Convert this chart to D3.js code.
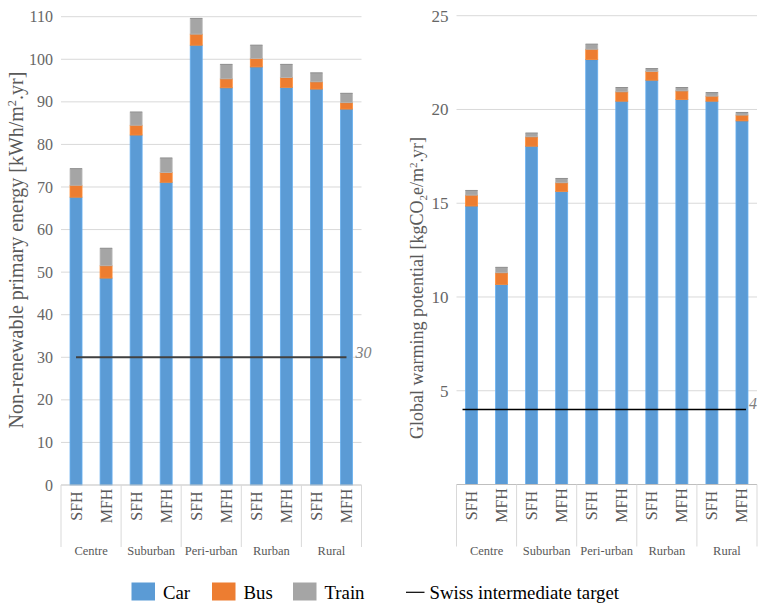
<!DOCTYPE html>
<html>
<head>
<meta charset="utf-8">
<script src="https://cdn.jsdelivr.net/npm/d3@7"></script>
<style>
  html, body { margin: 0; padding: 0; background: #fff; }
  svg { display: block; }
  svg text { font-family: "Liberation Serif", "Times New Roman", serif; }
</style>
</head>
<body>
<svg id="chart" width="765" height="607"></svg>
<script>
// Settlement types and dwelling types along the category axis
const groups = ["Centre", "Suburban", "Peri-urban", "Rurban", "Rural"];
const dwellings = ["SFH", "MFH"];
const modes = ["Car", "Bus", "Train"];
const modeColors = ["#5B9BD5", "#ED7D31", "#A5A5A5"];

// Non-renewable primary energy, kWh/m2.yr (SFH, MFH per group)
const energyCar   = [67.6, 48.6, 82.2, 71.1, 103.3, 93.3, 98.2, 93.4, 93.0, 88.3];
const energyBus   = [2.8, 2.9, 2.3, 2.3, 2.6, 2.1, 2.0, 2.3, 1.7, 1.5];
const energyTrain = [3.9, 4.1, 3.1, 3.4, 3.7, 3.4, 3.1, 3.1, 2.1, 2.2];
const energyTicks = [0, 10, 20, 30, 40, 50, 60, 70, 80, 90, 100, 110];
const energyTarget = 30;

// Global warming potential, kgCO2e/m2.yr
const gwpCar   = [14.85, 10.67, 18.04, 15.63, 22.66, 20.44, 21.56, 20.53, 20.44, 19.39];
const gwpBus   = [0.58, 0.62, 0.50, 0.46, 0.55, 0.50, 0.47, 0.46, 0.27, 0.31];
const gwpTrain = [0.25, 0.29, 0.20, 0.23, 0.27, 0.23, 0.15, 0.18, 0.19, 0.14];
const gwpTicks = [5, 10, 15, 20, 25];
const gwpTarget = 4;

const targetLabel = "Swiss intermediate target";

const svg = d3.select("#chart");

function drawPanel(opt) {
  const g = svg.append("g");
  const keys = [];
  groups.forEach(gr => dwellings.forEach(dw => keys.push(gr + "|" + dw)));

  const x = d3.scaleBand().domain(keys)
    .range([opt.left, opt.right]).paddingInner(0.6).paddingOuter(0.3);
  const y = d3.scaleLinear().domain([0, opt.max]).range([opt.bottom, opt.top]);

  // gridlines
  g.append("g").selectAll("line")
    .data(opt.ticks.filter(t => t > 0)).join("line")
    .attr("x1", opt.left).attr("x2", opt.right)
    .attr("y1", d => y(d)).attr("y2", d => y(d))
    .attr("stroke", "#d9d9d9").attr("stroke-width", 1);

  // value axis labels
  const yAxis = d3.axisLeft(y).tickValues(opt.ticks).tickSize(0).tickPadding(opt.tickPad);
  const ya = g.append("g").attr("transform", `translate(${opt.left},0)`).call(yAxis);
  ya.attr("font-family", null).attr("font-size", null);
  ya.select(".domain").remove();
  ya.selectAll("text")
    .style("font-size", opt.tickSize + "px").attr("fill", "#666666");

  // stacked bars
  const rows = keys.map((k, i) => ({ key: k, Car: opt.car[i], Bus: opt.bus[i], Train: opt.train[i] }));
  const series = d3.stack().keys(modes)(rows);
  const bw = x.bandwidth();
  series.forEach((s, si) => {
    const col = d3.color(modeColors[si]);
    const sg = g.append("g");
    sg.selectAll("rect").data(s).join("rect")
      .attr("x", d => x(d.data.key))
      .attr("y", d => y(d[1]))
      .attr("width", bw)
      .attr("height", d => y(d[0]) - y(d[1]))
      .attr("fill", modeColors[si])
      .attr("stroke", col.brighter(0.35))
      .attr("stroke-width", 0.8);
    sg.selectAll("line").data(s).join("line")
      .attr("x1", d => x(d.data.key)).attr("x2", d => x(d.data.key) + bw)
      .attr("y1", d => y(d[1])).attr("y2", d => y(d[1]))
      .attr("stroke", col.darker(0.7)).attr("stroke-width", 0.8);
  });

  // category axis line and group separators
  g.append("line")
    .attr("x1", opt.left).attr("x2", opt.right)
    .attr("y1", opt.bottom).attr("y2", opt.bottom)
    .attr("stroke", "#bfbfbf").attr("stroke-width", 1);
  const groupEdges = d3.range(groups.length + 1).map(i =>
    i < groups.length ? x(groups[i] + "|SFH") - x.step() * x.paddingOuter() : opt.right);
  g.append("g").selectAll("line").data(groupEdges).join("line")
    .attr("x1", d => d).attr("x2", d => d)
    .attr("y1", opt.bottom).attr("y2", opt.bottom + 62)
    .attr("stroke", "#d9d9d9").attr("stroke-width", 1);

  // dwelling labels (rotated)
  g.append("g").selectAll("text").data(keys).join("text")
    .attr("transform", d => `translate(${x(d) + bw / 2 + 5.5},${opt.bottom + 21}) rotate(-90)`)
    .attr("text-anchor", "middle")
    .style("font-size", "16px").attr("fill", "#595959")
    .text(d => d.split("|")[1]);

  // settlement group labels
  g.append("g").selectAll("text").data(groups).join("text")
    .attr("x", (d, i) => (groupEdges[i] + groupEdges[i + 1]) / 2)
    .attr("y", opt.bottom + 70)
    .attr("text-anchor", "middle")
    .style("font-size", "12.5px").attr("fill", "#595959")
    .text(d => d);

  // target line
  const firstKey = keys[0], lastKey = keys[keys.length - 1];
  const lineEnd = x(lastKey) + bw / 2 + opt.lineOffR;
  g.append("line")
    .attr("x1", x(firstKey) + bw / 2 + opt.lineOffL)
    .attr("x2", lineEnd)
    .attr("y1", y(opt.target)).attr("y2", y(opt.target))
    .attr("stroke", opt.lineColor).attr("stroke-width", opt.lineWidth);
  g.append("text")
    .attr("x", lineEnd + opt.labelDx)
    .attr("y", y(opt.target) + opt.labelDy)
    .style("font-size", "16px").style("font-style", "italic").attr("fill", "#7f7f7f")
    .text(opt.target);

  // value axis title
  const title = g.append("text")
    .attr("transform", `translate(${opt.titleX},${opt.titleY}) rotate(-90)`)
    .attr("text-anchor", "middle")
    .style("font-size", opt.titleSize + "px").attr("fill", "#595959");
  opt.title.forEach(p => {
    const t = title.append("tspan").text(p.t);
    if (p.sup) t.style("font-size", opt.titleSize * 0.62 + "px").attr("dy", -opt.titleSize * 0.35);
    if (p.sub) t.style("font-size", opt.titleSize * 0.62 + "px").attr("dy", opt.titleSize * 0.2);
    if (p.reset) t.attr("dy", p.reset * opt.titleSize);
  });
}

drawPanel({
  left: 61, right: 361.5, top: 16.7, bottom: 485, max: 110,
  ticks: energyTicks, tickSize: 16, tickPad: 8,
  car: energyCar, bus: energyBus, train: energyTrain,
  target: energyTarget, lineColor: "#404040", lineWidth: 2,
  lineOffL: 0, lineOffR: 0, labelDx: 9, labelDy: 1,
  titleX: 23, titleY: 250, titleSize: 20,
  title: [
    { t: "Non-renewable primary energy [kWh/m" },
    { t: "2", sup: true },
    { t: ".yr]", reset: 0.35 }
  ]
});

drawPanel({
  left: 456.5, right: 757, top: 15.7, bottom: 484.5, max: 25,
  ticks: gwpTicks, tickSize: 17, tickPad: 8,
  car: gwpCar, bus: gwpBus, train: gwpTrain,
  target: gwpTarget, lineColor: "#000000", lineWidth: 1.3,
  lineOffL: -9, lineOffR: 4, labelDx: 3, labelDy: 0,
  titleX: 423, titleY: 288, titleSize: 18,
  title: [
    { t: "Global warming potential [kgCO" },
    { t: "2", sub: true },
    { t: "e/m", reset: -0.2 },
    { t: "2", sup: true },
    { t: ".yr]", reset: 0.35 }
  ]
});

// legend
const legend = svg.append("g").attr("fill", "#000");
const legendX = [131.5, 212, 293];
modes.forEach((m, i) => {
  legend.append("rect").attr("x", legendX[i]).attr("y", 582.5)
    .attr("width", 23.5).attr("height", 18).attr("fill", modeColors[i]);
  legend.append("text").attr("x", legendX[i] + 31.5).attr("y", 598.5)
    .style("font-size", "18.8px").text(m);
});
legend.append("line").attr("x1", 406).attr("x2", 424.5)
  .attr("y1", 592.3).attr("y2", 592.3).attr("stroke", "#000").attr("stroke-width", 1.2);
legend.append("text").attr("x", 429.5).attr("y", 598.5)
  .style("font-size", "18.8px").text(targetLabel);
</script>
</body>
</html>
